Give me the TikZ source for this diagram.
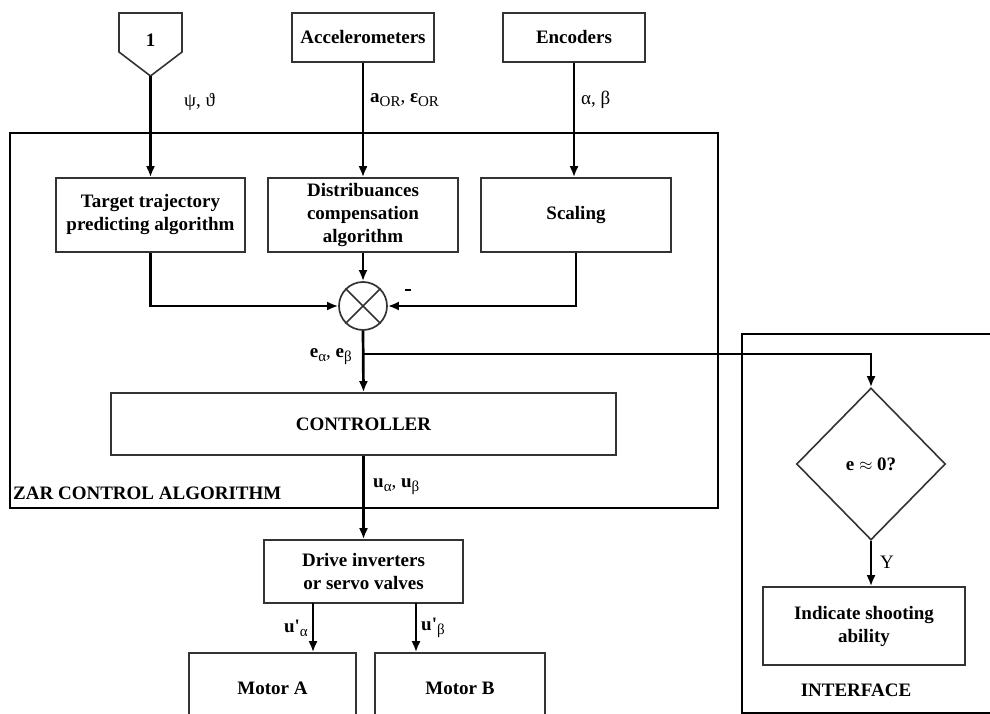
\documentclass[tikz,border=0pt]{standalone}
\usepackage{fontspec}
\setmainfont{Liberation Serif}
\usetikzlibrary{arrows.meta,shapes.geometric}
\newcommand{\myfs}{\fontsize{19}{23}\selectfont}
\newcommand{\mysub}[1]{\raisebox{-4pt}{\fontsize{15}{15}\selectfont #1}}
\definecolor{boxgray}{HTML}{333333}
\begin{document}
\begin{tikzpicture}[x=1pt,y=-1pt,
  box/.style={draw=boxgray, line width=1.6pt, inner sep=0pt, align=center, font=\myfs\bfseries},
  conn/.style={line width=2.7pt, -{Latex[length=11pt,width=9pt]}},
  lab/.style={inner sep=0pt, font=\myfs},
  frame/.style={draw=black, line width=1.7pt}]
\useasboundingbox (0,0) rectangle (990,714);

% frames
\draw[frame] (10,133) rectangle (718,508);
\draw[frame] (742,334) rectangle (1000,713);
\node[lab, anchor=west, font=\myfs\bfseries] (zar) at (13,493) {ZAR CONTROL ALGORITHM};
\node[lab, font=\myfs\bfseries] (intf) at (856,690) {INTERFACE};

% top inputs
\draw[draw=boxgray, line width=1.6pt] (119,13) -- (182,13) -- (182,52) -- (150.5,76) -- (119,52) -- cycle;
\node[lab, font=\myfs\bfseries] (one) at (150.5,40) {1};
\coordinate (onetip) at (150.5,76);
\node[box, minimum width=142, minimum height=49] (acc) at (363,37.5) {Accelerometers};
\node[box, minimum width=142, minimum height=49] (enc) at (574,37.5) {Encoders};

% inner blocks
\node[box, minimum width=189, minimum height=74] (target) at (150.5,215) {Target trajectory\\predicting algorithm};
\node[box, minimum width=190, minimum height=74] (dist) at (363,215) {Distribuances\\compensation\\algorithm};
\node[box, minimum width=190, minimum height=74] (scal) at (576,215) {Scaling};
\node[draw=boxgray, line width=1.7pt, circle, minimum size=48, inner sep=0pt] (sum) at (363,306) {};
\draw[draw=boxgray, line width=1.7pt] (sum.north west) -- (sum.south east) (sum.north east) -- (sum.south west);
\node[box, minimum width=505, minimum height=62] (ctrl) at (363.5,424) {CONTROLLER};
\node[box, minimum width=199, minimum height=63] (drive) at (363.5,571.5) {Drive inverters\\or servo valves};
\node[box, minimum width=167, minimum height=70] (motA) at (272.5,688) {Motor A};
\node[box, minimum width=170, minimum height=70] (motB) at (460,688) {Motor B};

% interface
\node[box, diamond, minimum width=149, minimum height=152] (dia) at (871,464) {e $\approx$ 0?};
\node[box, minimum width=202, minimum height=78] (ind) at (864,626) {Indicate shooting\\ability};

% connectors
\draw[conn] (onetip) -- (target.north);
\draw[conn] (acc.south) -- (dist.north);
\draw[conn] (enc.south) -- (enc.south |- scal.north);
\draw[conn] (target.south) |- (sum.west);
\draw[conn] (dist.south) -- (sum.north);
\draw[conn] (scal.south) |- (sum.east);
\draw[conn] (sum.south) -- (ctrl.north);
\coordinate (br) at (363,354);
\draw[conn] (br) -| (dia.north);
\draw[conn] (ctrl.south) -- (drive.north);
\coordinate (dA) at (313,603);
\coordinate (dB) at (416,603);
\draw[conn] (dA) -- (dA |- motA.north);
\draw[conn] (dB) -- (dB |- motB.north);
\draw[conn] (dia.south) -- (dia.south |- ind.north);

% labels
\node[lab, anchor=west] (l1) at (184,102) {ψ, ϑ};
\node[lab, anchor=west] (l2) at (370,100) {\textbf{a}\mysub{OR}, \textbf{ε}\mysub{OR}};
\node[lab, anchor=west] (l3) at (581,100) {α, β};
\node[lab] (minus) at (408,290) {\rule{6pt}{2.2pt}};
\node[lab, anchor=east] (l4) at (352,357) {\textbf{e}\mysub{α}, \textbf{e}\mysub{β}};
\node[lab, anchor=west] (l5) at (373,487) {\textbf{u}\mysub{α}, \textbf{u}\mysub{β}};
\node[lab, anchor=east] (l6) at (308,628) {\textbf{u\textquotesingle}\mysub{α}};
\node[lab, anchor=west] (l7) at (421,628) {\textbf{u\textquotesingle}\mysub{β}};
\node[lab, anchor=west] (ly) at (880,562) {Y};
\end{tikzpicture}
\end{document}
